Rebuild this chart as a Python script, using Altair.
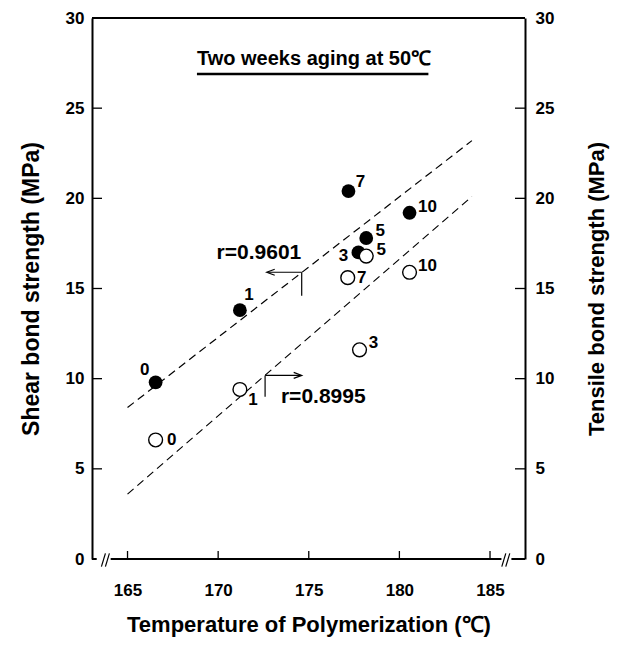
import altair as alt
import pandas as pd

# ---------------- data ----------------
labels = ["0", "1", "3", "5", "7", "10"]
shear_T = [166.55, 171.2, 177.74, 178.17, 177.19, 180.56]
shear_S = [9.8, 13.8, 17.0, 17.8, 20.4, 19.2]
tensile_T = [166.55, 171.2, 177.8, 178.17, 177.15, 180.56]
tensile_S = [6.6, 9.4, 11.6, 16.8, 15.6, 15.9]

shear_fit_T = [165.0, 184.0]
shear_fit_S = [8.4, 23.2]
tensile_fit_T = [165.0, 184.0]
tensile_fit_S = [3.6, 20.1]

x_ticks = [165, 170, 175, 180, 185]
y_ticks = [0, 5, 10, 15, 20, 25, 30]
y_inner_ticks = [5, 10, 15, 20, 25]

# label offsets (pixels) for the point numbers
shear_dx = [-11, 9, -15, 14, 12, 18]
shear_dy = [-12, -15, 4, -7, -9, -6]
tens_dx = [16, 13, 14, 15, 14, 18]
tens_dy = [0, 11, -7, -6, 0, -6]

# ---------------- layout ----------------
W, H = 433, 541
XDOM = [163.04, 186.93]
YDOM = [0, 30]
PXX = W / (XDOM[1] - XDOM[0])
PXY = H / (YDOM[1] - YDOM[0])
FONT = "Liberation Sans"

xs = alt.Scale(domain=XDOM, nice=False, zero=False)
ys = alt.Scale(domain=YDOM, nice=False, zero=False)

shear = pd.DataFrame({"T": shear_T, "S": shear_S, "lab": labels,
                      "LT": [t + d / PXX for t, d in zip(shear_T, shear_dx)],
                      "LS": [s - d / PXY for s, d in zip(shear_S, shear_dy)]})
tens = pd.DataFrame({"T": tensile_T, "S": tensile_S, "lab": labels,
                     "LT": [t + d / PXX for t, d in zip(tensile_T, tens_dx)],
                     "LS": [s - d / PXY for s, d in zip(tensile_S, tens_dy)]})
fits = pd.DataFrame({"T": shear_fit_T + tensile_fit_T,
                     "S": shear_fit_S + tensile_fit_S,
                     "g": ["shear"] * 2 + ["tensile"] * 2})


def X(f, **kw):
    return alt.X(f, scale=xs, axis=None, **kw)


def Y(f, **kw):
    return alt.Y(f, scale=ys, axis=None, **kw)


# frame / broken baseline segments (data units)
seg = pd.DataFrame({
    "x1": [XDOM[0], 164.07, 186.18, XDOM[0], 163.56, 163.78, 185.65, 185.87],
    "x2": [163.30, 185.63, XDOM[1], XDOM[1], 163.78, 164.00, 185.87, 186.09],
    "y1": [0, 0, 0, 30, -0.42, -0.42, -0.42, -0.42],
    "y2": [0, 0, 0, 30, 0.31, 0.31, 0.31, 0.31],
    "w": [2, 2, 2, 2, 1.2, 1.2, 1.2, 1.2],
})

frame = alt.Chart(seg).mark_rule(color="black").encode(
    x=X("x1:Q"), x2="x2:Q", y=Y("y1:Q"), y2="y2:Q",
    strokeWidth=alt.StrokeWidth("w:Q", scale=None))

axis_style = dict(labelFont=FONT, labelFontSize=17, labelFontWeight="bold",
                  labelColor="black", titleFont=FONT,
                  titleFontWeight="bold", titleColor="black", grid=False,
                  ticks=False)

left_ticks = alt.Chart(pd.DataFrame({"v": y_inner_ticks})).mark_rule(
    color="black", strokeWidth=1.3).encode(
    y=alt.Y("v:Q", scale=ys, axis=alt.Axis(
        orient="left", values=y_ticks, domain=True, domainColor="black",
        domainWidth=2, labelPadding=8, title="Shear bond strength  (MPa)",
        titleFontSize=23, titlePadding=22, **axis_style)),
    x=alt.value(0), x2=alt.value(10))

right_ticks = alt.Chart(pd.DataFrame({"v": y_inner_ticks})).mark_rule(
    color="black", strokeWidth=1.3).encode(
    y=alt.Y("v:Q", scale=ys, axis=alt.Axis(
        orient="right", values=y_ticks, domain=True, domainColor="black",
        domainWidth=2, labelPadding=10, title="Tensile bond strength (MPa)",
        titleFontSize=22, titleAngle=270, titlePadding=55, **axis_style)),
    x=alt.value(W - 10), x2=alt.value(W))

bottom_ticks = alt.Chart(pd.DataFrame({"v": x_ticks})).mark_rule(
    color="black", strokeWidth=1.3).encode(
    x=alt.X("v:Q", scale=xs, axis=alt.Axis(
        orient="bottom", values=x_ticks, domain=False, labelPadding=23,
        title="Temperature of Polymerization (℃)", titleFontSize=22,
        titlePadding=16, **axis_style)),
    y=alt.value(H), y2=alt.value(H - 8))

fit_lines = alt.Chart(fits).mark_line(
    color="black", strokeWidth=1.2, strokeDash=[8, 5]).encode(
    x=X("T:Q"), y=Y("S:Q"), detail="g:N")

filled = alt.Chart(shear).mark_circle(size=190, color="black", opacity=1).encode(
    x=X("T:Q"), y=Y("S:Q"))
opened = alt.Chart(tens).mark_circle(
    size=190, fill="white", stroke="black", strokeWidth=1.4, opacity=1).encode(
    x=X("T:Q"), y=Y("S:Q"))

lab_style = dict(font=FONT, fontSize=17, fontWeight="bold", color="black")
shear_lab = alt.Chart(shear).mark_text(**lab_style).encode(
    x=X("LT:Q"), y=Y("LS:Q"), text="lab:N")
tens_lab = alt.Chart(tens).mark_text(**lab_style).encode(
    x=X("LT:Q"), y=Y("LS:Q"), text="lab:N")

# title & underline
title_df = pd.DataFrame({"x": [175.29], "y": [27.7],
                         "t": ["Two weeks aging at 50℃"]})
title = alt.Chart(title_df).mark_text(
    font=FONT, fontSize=20, fontWeight="bold", color="black").encode(
    x=X("x:Q"), y=Y("y:Q"), text="t:N")
underline = alt.Chart(pd.DataFrame({"x1": [168.83], "x2": [181.6], "y": [26.9]})
                      ).mark_rule(color="black", strokeWidth=2.5).encode(
    x=X("x1:Q"), x2="x2:Q", y=Y("y:Q"))

# correlation annotations
r_df = pd.DataFrame({"x": [172.25, 175.8], "y": [16.95, 9.0],
                     "t": ["r=0.9601", "r=0.8995"]})
r_text = alt.Chart(r_df).mark_text(
    font=FONT, fontSize=21, fontWeight="bold", color="black").encode(
    x=X("x:Q"), y=Y("y:Q"), text="t:N")

arr = pd.DataFrame({
    "x1": [174.61, 174.61, 172.59, 172.59],
    "x2": [172.75, 174.61, 174.55, 172.59],
    "y1": [15.9, 15.9, 10.18, 10.18],
    "y2": [15.9, 14.6, 10.18, 9.0],
})
arrows = alt.Chart(arr).mark_rule(color="black", strokeWidth=1.2).encode(
    x=X("x1:Q"), x2="x2:Q", y=Y("y1:Q"), y2="y2:Q")
head_l = alt.Chart(pd.DataFrame({"x": [172.68], "y": [15.9]})).mark_point(
    shape="M1.6,-0.6 L0,0 L1.6,0.6", size=100, filled=False, color="black",
    strokeWidth=1.2, opacity=1).encode(x=X("x:Q"), y=Y("y:Q"))
head_r = alt.Chart(pd.DataFrame({"x": [174.61], "y": [10.18]})).mark_point(
    shape="M-1.6,-0.6 L0,0 L-1.6,0.6", size=100, filled=False, color="black",
    strokeWidth=1.2, opacity=1).encode(x=X("x:Q"), y=Y("y:Q"))

chart = alt.layer(
    left_ticks, right_ticks, bottom_ticks, frame, fit_lines, filled, opened,
    shear_lab, tens_lab, title, underline, r_text, arrows, head_l, head_r
).resolve_axis(x="independent", y="independent").properties(
    width=W, height=H,
    autosize=alt.AutoSizeParams(type="none"),
    padding={"left": 84, "top": 10, "right": 85, "bottom": 78},
).configure_view(stroke=None)

chart.save("out.html", embed_options={"renderer": "svg", "actions": False})
